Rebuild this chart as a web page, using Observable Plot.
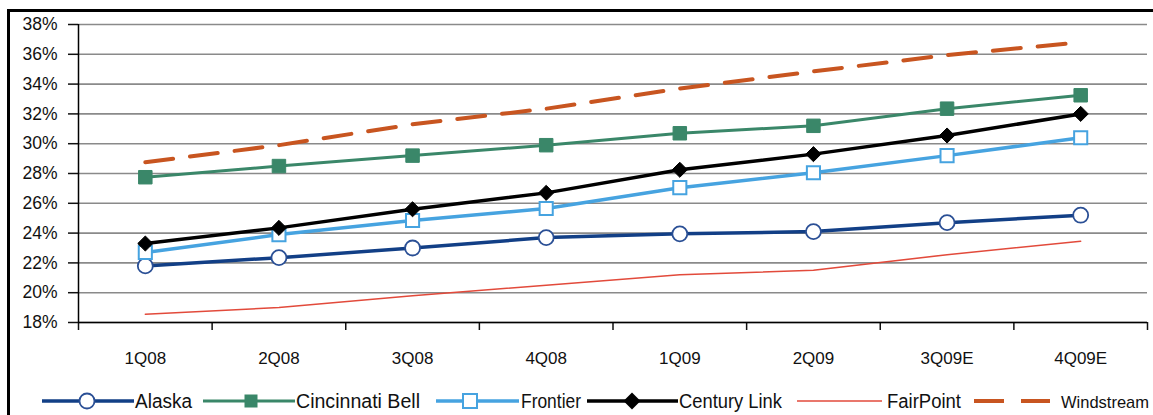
<!DOCTYPE html>
<html><head><meta charset="utf-8">
<script src="https://cdn.jsdelivr.net/npm/d3@7"></script>
<script src="https://cdn.jsdelivr.net/npm/@observablehq/plot@0.6"></script>
<style>
body{margin:0;background:#fff;font-family:"Liberation Sans",Arial,sans-serif;}
#wrap{position:relative;width:1153px;height:415px;overflow:hidden;background:#fff;}
#frame{position:absolute;left:7px;top:9px;width:1200px;height:500px;border-left:3px solid #000;border-top:3px solid #000;}
#chart{position:absolute;left:0;top:0;}
#legend{position:absolute;left:0;top:386px;}
</style></head><body>
<div id="wrap"><div id="frame"></div><div id="chart"></div><svg id="legend" width="1153" height="30"></svg></div>
<script>
const quarters = ["1Q08","2Q08","3Q08","4Q08","1Q09","2Q09","3Q09E","4Q09E"];
const alaska      = [21.8, 22.35, 23.0, 23.7, 23.95, 24.1, 24.7, 25.2];
const cincinnati  = [27.75, 28.5, 29.2, 29.9, 30.7, 31.2, 32.35, 33.25];
const frontier    = [22.7, 23.9, 24.85, 25.65, 27.05, 28.05, 29.2, 30.4];
const centuryLink = [23.3, 24.35, 25.6, 26.7, 28.25, 29.3, 30.55, 32.0];
const fairPoint   = [18.55, 19.0, 19.8, 20.5, 21.2, 21.5, 22.55, 23.45];
const windstream  = [28.75, 29.9, 31.3, 32.35, 33.7, 34.85, 35.95, 36.8];
const seriesNames = ["Alaska","Cincinnati Bell","Frontier","Century Link","FairPoint","Windstream"];
const yTicks = [18,20,22,24,26,28,30,32,34,36,38];

const rows = vals => vals.map((v,i)=>({x:i+0.5, q:quarters[i], v}));
const C = {alaska:"#123f86", alaskaM:"#2a4f95", cin:"#3a8769", fr:"#46a3e0", cl:"#000000", fp:"#e24a3b", ws:"#c85520"};

const chart = Plot.plot({
  width:1153, height:380, marginLeft:78, marginRight:6, marginTop:24, marginBottom:58,
  x:{domain:[0,8]}, y:{domain:[18,38]},
  style:{fontFamily:"'Liberation Sans', Arial, sans-serif", fontSize:"17px", color:"#111", background:"transparent", overflow:"visible"},
  marks:[
    Plot.gridY(yTicks,{stroke:"#8a8a8a",strokeOpacity:1,strokeWidth:1.6}),
    Plot.axisY(yTicks,{tickSize:10,tickPadding:11,tickFormat:d=>d+"%",label:null,strokeWidth:1.5,fontSize:17.5}),
    Plot.axisX(d3.range(0,9),{tickSize:8,tickFormat:()=>"",label:null,strokeWidth:1.5}),
    Plot.axisX(quarters.map((q,i)=>i+0.5),{tickSize:0,tickPadding:29,tickFormat:d=>quarters[Math.floor(d)],label:null,fontSize:17}),
    Plot.ruleX([0],{stroke:"#000",strokeWidth:1.5}),
    Plot.ruleY([18],{stroke:"#000",strokeWidth:1.5}),
    Plot.line(rows(alaska),{x:"x",y:"v",stroke:C.alaska,strokeWidth:3.5}),
    Plot.dot(rows(alaska),{x:"x",y:"v",symbol:"circle",r:7.5,fill:"#fff",stroke:C.alaskaM,strokeWidth:1.8}),
    Plot.line(rows(cincinnati),{x:"x",y:"v",stroke:C.cin,strokeWidth:3}),
    Plot.dot(rows(cincinnati),{x:"x",y:"v",symbol:"square",r:7.6,fill:C.cin,stroke:C.cin,strokeWidth:1}),
    Plot.line(rows(frontier),{x:"x",y:"v",stroke:C.fr,strokeWidth:3.5}),
    Plot.dot(rows(frontier),{x:"x",y:"v",symbol:"square",r:7.4,fill:"#fff",stroke:C.fr,strokeWidth:2}),
    Plot.line(rows(centuryLink),{x:"x",y:"v",stroke:C.cl,strokeWidth:3.5}),
    Plot.dot(rows(centuryLink),{x:"x",y:"v",symbol:"diamond2",r:6.8,fill:"#000",stroke:"#000",strokeWidth:1}),
    Plot.line(rows(fairPoint),{x:"x",y:"v",stroke:C.fp,strokeWidth:1.5}),
    Plot.line(rows(windstream),{x:"x",y:"v",stroke:C.ws,strokeWidth:4,strokeDasharray:"28,17"})
  ]
});
document.getElementById("chart").appendChild(chart);

// legend
const lg = d3.select("#legend");
const cy = 15;
const items = [
  {name:seriesNames[0], x0:42, x1:134, m:87, tx:135, w:57, fs:19.5, color:C.alaska, sw:3.5, marker:"circle"},
  {name:seriesNames[1], x0:203, x1:295, m:251, tx:296, w:124, fs:19.5, color:C.cin, sw:3, marker:"fsquare"},
  {name:seriesNames[2], x0:436, x1:519, m:470, tx:521, w:60, fs:19.5, color:C.fr, sw:3.5, marker:"osquare"},
  {name:seriesNames[3], x0:587, x1:678, m:632, tx:679, w:103, fs:19.5, color:C.cl, sw:3.5, marker:"diamond"},
  {name:seriesNames[4], x0:797, x1:882, m:null, tx:887, w:74, fs:19.5, color:C.fp, sw:1.5, marker:null},
  {name:seriesNames[5], x0:974, x1:1050, m:null, tx:1061, w:88, fs:17, color:C.ws, sw:4, marker:null, dash:"30,17"}
];
for (const it of items) {
  lg.append("line").attr("x1",it.x0).attr("x2",it.x1).attr("y1",cy).attr("y2",cy)
    .attr("stroke",it.color).attr("stroke-width",it.sw).attr("stroke-dasharray",it.dash||null);
  if (it.marker==="circle") lg.append("circle").attr("cx",it.m).attr("cy",cy).attr("r",7.5).attr("fill","#fff").attr("stroke",C.alaskaM).attr("stroke-width",1.8);
  if (it.marker==="fsquare") lg.append("rect").attr("x",it.m-6.5).attr("y",cy-6.5).attr("width",13).attr("height",13).attr("fill",it.color);
  if (it.marker==="osquare") lg.append("rect").attr("x",it.m-7).attr("y",cy-7).attr("width",14).attr("height",14).attr("fill","#fff").attr("stroke",it.color).attr("stroke-width",2);
  if (it.marker==="diamond") lg.append("path").attr("d",`M${it.m},${cy-8.5}L${it.m+8.5},${cy}L${it.m},${cy+8.5}L${it.m-8.5},${cy}Z`).attr("fill","#000");
  lg.append("text").attr("x",it.tx).attr("y",cy+7).attr("font-size",it.fs+"px").attr("fill","#111")
    .attr("textLength",it.w).attr("lengthAdjust","spacingAndGlyphs")
    .attr("font-family","'Liberation Sans', Arial, sans-serif").text(it.name);
}
</script>
</body></html>
